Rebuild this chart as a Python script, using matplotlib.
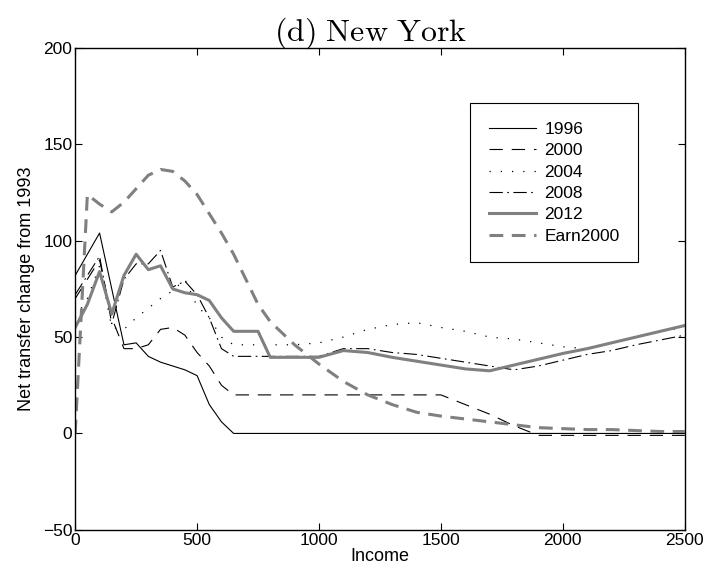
import matplotlib
matplotlib.use("Agg")
import matplotlib.pyplot as plt
import numpy as np

plt.rcParams['font.family'] = ['Liberation Sans', 'DejaVu Sans']
plt.rcParams['mathtext.fontset'] = 'cm'

# income grid (steps of 50 up to 800, then 100)
income = [0, 50, 100, 150, 200, 250, 300, 350, 400, 450, 500, 550, 600, 650,
          700, 750, 800, 900, 1000, 1100, 1200, 1300, 1400, 1500, 1600, 1700,
          1800, 1900, 2000, 2100, 2200, 2300, 2400, 2500]

y1996 = [82, 93, 104, 75, 46, 47, 40, 37, 35, 33, 30, 15, 6, 0,
         0, 0, 0, 0, 0, 0, 0, 0, 0, 0, 0, 0,
         0, 0, 0, 0, 0, 0, 0, 0]
y2000 = [70, 80, 90, 60, 44, 44, 46, 54, 55, 51, 42, 35, 25, 20,
         20, 20, 20, 20, 20, 20, 20, 20, 20, 20, 15, 10,
         4, -1, -1, -1, -1, -1, -1, -1]
y2004 = [60, 70, 87, 55, 54, 60, 65, 70, 74, 80, 66, 60, 50, 46,
         46, 46, 46, 46, 47, 50, 54, 56.5, 57.5, 55, 53, 50,
         49, 47, 45, 44, 47, 50, 53, 55]
y2008 = [72, 82, 92, 57, 80, 88, 88, 95, 76, 79, 72, 60, 44, 40,
         40, 40, 40, 40, 40, 44, 44, 42, 41, 39, 37, 35,
         33, 35, 38, 41, 43, 46, 48.5, 51]
y2012 = [55, 67, 84, 62, 82, 93, 85, 87, 75, 73, 72, 69, 60, 53,
         53, 53, 39.5, 39.5, 39.5, 43, 42, 39.5, 37.5, 35.5, 33.5, 32.5,
         35.5, 38.5, 41.5, 44, 47, 50, 53, 56]
earn2000 = [0, 124, 119, 115, 120, 127, 134, 137, 136, 131, 124, 114, 104, 93,
            80, 67, 58, 46, 36, 27, 20, 15, 11, 9, 7.5, 6,
            4.5, 3, 2.5, 2, 2, 1.5, 1, 1]

fig = plt.figure(figsize=(7.23, 5.79), dpi=100)
ax = fig.add_axes([0.104, 0.085, 0.843, 0.832])

gray = '#808080'
ax.plot(income, y1996, color='k', lw=0.8, label='1996')
ax.plot(income, y2000, color='k', lw=0.8, ls=(0, (12, 8)), label='2000')
ax.plot(income, y2004, color='k', lw=0.9, ls=(0, (1, 8)), label='2004')
ax.plot(income, y2008, color='k', lw=0.8, ls=(0, (12, 4, 1.5, 4)), label='2008')
ax.plot(income, y2012, color=gray, lw=2.2, label='2012')
ax.plot(income, earn2000, color=gray, lw=2.2, ls=(0, (4.5, 2.8)), label='Earn2000')

ax.set_xlim(0, 2500)
ax.set_ylim(-50, 200)
ax.set_xticks([0, 500, 1000, 1500, 2000, 2500])
ax.set_yticks([-50, 0, 50, 100, 150, 200])
ax.tick_params(direction='in', top=True, right=True, labelsize=12.5, length=5, pad=2)
for s in ax.spines.values():
    s.set_linewidth(1.0)

ax.set_xlabel('Income', fontsize=13, labelpad=0)
ax.set_ylabel('Net transfer change from 1993', fontsize=13, labelpad=6)
ax.set_title(r'$\mathrm{(d)\ New\ York}$', fontsize=23, pad=5, x=0.485)

leg = ax.legend(loc='upper right', bbox_to_anchor=(0.923, 0.885), borderaxespad=0,
                fontsize=12.5, fancybox=False, edgecolor='k', framealpha=1,
                handlelength=2.7, handletextpad=0.5, labelspacing=0.36, borderpad=1.05)
leg.get_frame().set_linewidth(0.8)

fig.savefig('out.png', dpi=100)
